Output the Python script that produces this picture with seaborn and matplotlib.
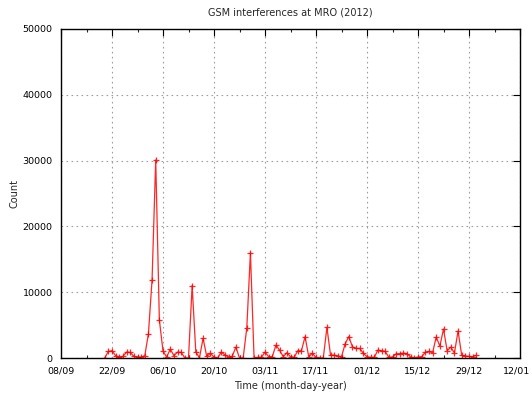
import matplotlib
matplotlib.use("Agg")
import matplotlib.pyplot as plt
import matplotlib.dates as mdates
import matplotlib.transforms as mtransforms
from matplotlib.ticker import MultipleLocator, FuncFormatter
import seaborn as sns
import pandas as pd
import numpy as np

# ---- data (daily counts) ----
start_date = "2012-09-20"
counts = [
    0, 1000, 1100, 350, 150, 250, 900, 850, 250, 150,
    150, 350, 3700, 11900, 30100, 5800, 1050, 150, 1350, 350,
    900, 850, 0, 0, 11000, 950, 0, 3000, 250, 700,
    150, 0, 900, 450, 150, 250, 1650, 0, 0, 4550,
    16000, 0, 100, 100, 900, 200, 200, 1950, 1200, 200,
    800, 200, 100, 1100, 1100, 3250, 200, 700, 100, 0,
    0, 4650, 400, 450, 300, 200, 2150, 3250, 1700, 1450,
    1450, 700, 200, 100, 100, 1200, 1100, 1000, 100, 150,
    650, 650, 750, 650, 150, 0, 150, 200, 850, 1000,
    800, 3200, 1800, 4400, 1100, 1650, 760, 4100, 400, 300,
    250, 200, 400,
]
x_start = "2012-09-08"
x_end = "2013-01-12"
y_max = 50000
y_step = 10000
title = "GSM interferences at MRO (2012)"
x_label = "Time (month-day-year)"
y_label = "Count"

dates = pd.date_range(start_date, periods=len(counts), freq="D")
df = pd.DataFrame({"date": dates, "count": counts})

sns.set_theme(style="white")
plt.rcParams["font.family"] = ["DejaVu Sans"]

fig = plt.figure(figsize=(5.32, 3.93), dpi=100)
ax = fig.add_axes([61 / 532, 1 - 358 / 393, (520 - 61) / 532, (358 - 29) / 393])

sns.lineplot(data=df, x="date", y="count", ax=ax, color="#ff0000",
             linewidth=0.9, marker="+", markersize=5, markeredgewidth=0.9,
             markeredgecolor="#ff0000", alpha=0.85)

ax.set_xlim(pd.Timestamp(x_start), pd.Timestamp(x_end))
ax.set_ylim(0, y_max)

major_dates = pd.date_range(x_start, x_end, freq="14D")
minor_dates = pd.date_range(pd.Timestamp(x_start) + pd.Timedelta(days=7), x_end, freq="14D")
ax.set_xticks(major_dates)
ax.set_xticks(minor_dates, minor=True)
ax.xaxis.set_major_formatter(mdates.DateFormatter("%d/%m"))
ax.yaxis.set_major_locator(MultipleLocator(y_step))
ax.yaxis.set_major_formatter(FuncFormatter(lambda v, p: f"{int(v)}"))

ax.grid(True, which="major", color="#a0a0a0", linestyle=(0, (1.5, 3)), linewidth=0.8)
ax.tick_params(axis="both", which="major", direction="in", length=5, width=0.8,
               top=True, right=True, labelsize=6.8, colors="black", pad=6)
ax.tick_params(axis="x", which="minor", direction="in", length=2.5, width=0.8,
               top=True, bottom=True)
for s in ax.spines.values():
    s.set_color("black")
    s.set_linewidth(1.0)

ax.set_title(title, fontsize=7, pad=10)
ax.set_xlabel(x_label, fontsize=7, labelpad=4)
ax.set_ylabel(y_label, fontsize=7, labelpad=2)

# keep the last date label inside the canvas
fig.canvas.draw()
last = ax.get_xticklabels()[-1]
last.set_transform(last.get_transform() + mtransforms.ScaledTranslation(-3 / 100, 0, fig.dpi_scale_trans))

fig.savefig("out.png", dpi=100)
